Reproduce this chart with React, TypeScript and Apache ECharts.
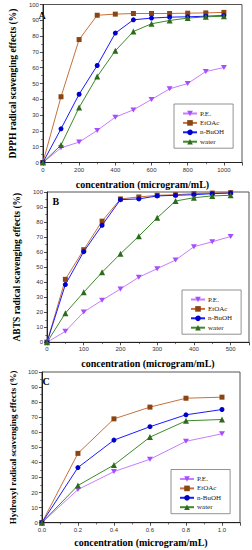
import React, { useEffect, useRef } from "react";
import * as echarts from "echarts";

const seriesNames = ["P.E.", "EtOAc", "n-BuOH", "water"];

const xA = [0, 100, 200, 300, 400, 500, 600, 700, 800, 900, 1000];
const peA = [0, 9.3, 12.9, 20.3, 28.7, 33.3, 39.9, 46.6, 50.0, 57.6, 60.1];
const etA = [0, 41.6, 77.8, 93.2, 93.9, 94.3, 94.3, 94.3, 94.5, 94.7, 95.0];
const buA = [0, 21.3, 43.2, 61.4, 81.9, 90.3, 91.4, 92.0, 92.2, 92.6, 93.0];
const waA = [0, 11.0, 34.8, 54.4, 70.7, 82.9, 87.8, 89.9, 91.4, 92.2, 92.6];

const xB = [0, 50, 100, 150, 200, 250, 300, 350, 400, 450, 500];
const peB = [0, 7.3, 20.1, 28.0, 35.5, 43.3, 49.0, 54.7, 63.6, 66.9, 70.4];
const etB = [0, 41.9, 61.6, 80.6, 95.4, 96.7, 97.8, 98.2, 98.9, 99.3, 99.6];
const buB = [0, 38.4, 60.3, 77.9, 94.9, 95.4, 97.4, 97.8, 98.2, 98.9, 99.3];
const waB = [0, 19.4, 33.3, 46.6, 58.9, 70.6, 82.8, 94.0, 96.2, 97.4, 97.8];

const xC = [0, 0.2, 0.4, 0.6, 0.8, 1.0];
const peC = [0, 22.0, 33.9, 42.1, 54.0, 59.0];
const etC = [0, 46.0, 68.9, 76.7, 82.6, 83.3];
const buC = [0, 36.6, 54.8, 63.7, 71.6, 75.1];
const waC = [0, 24.7, 38.3, 56.8, 67.6, 68.5];

const yTitles = [
  "DPPH radical scavenging effects (%)",
  "ABTS radical scavenging effects (%)",
  "Hydroxyl radical scavenging effects (%)",
];
const xTitle = "concentration (microgram/mL)";
const panelLetters = ["A", "B", "C"];

const SERIF = "'Liberation Serif', 'Times New Roman', serif";
const SANS = "'Liberation Sans', Arial, sans-serif";

const lineColors = ["#c77dff", "#c8703c", "#1a1aff", "#3d8a2a"];
const markColors = ["#a64dff", "#8b4513", "#0000cc", "#2d6b1c"];
const symbols = [
  "path://M0,0 L10,0 L5,9 Z",
  "rect",
  "circle",
  "triangle",
];

export default function App() {
  const ref = useRef<HTMLDivElement>(null);
  useEffect(() => {
    if (!ref.current) return;
    const chart = echarts.init(ref.current, undefined, { renderer: "svg" });

    const grids = [
      { left: 31, top: 4.5, width: 211, height: 158 },
      { left: 47, top: 192, width: 202, height: 150.3 },
      { left: 37.7, top: 372, width: 202.3, height: 150.7 },
    ];
    const xMax = [1100, 550, 1.1];
    const xInt = [200, 100, 0.2];
    const yGaps = [21, 16, 20];
    const yFont = [9.5, 9.5, 9];
    const xGaps = [16.5, 16, 15];
    const xs = [xA, xB, xC];
    const data = [
      [peA, etA, buA, waA],
      [peB, etB, buB, waB],
      [peC, etC, buC, waC],
    ];

    const axisCommon = {
      axisLine: { show: true, lineStyle: { color: "#222", width: 1 } },
      axisTick: { show: true, inside: false, length: 3, lineStyle: { color: "#222", width: 0.8 } },
      minorTick: { show: true, splitNumber: 2, length: 1.8, lineStyle: { color: "#222", width: 0.6 } },
      splitLine: { show: false },
    };

    const xAxis = grids.map((_, i) => ({
      type: "value",
      gridIndex: i,
      min: 0,
      max: xMax[i],
      interval: xInt[i],
      name: xTitle,
      nameLocation: "middle",
      nameGap: xGaps[i],
      ...axisCommon,
      nameTextStyle: { fontFamily: SERIF, fontWeight: "bold", fontSize: 10, color: "#000" },
      axisLabel: {
        fontFamily: SANS,
        fontSize: 6,
        color: "#333",
        margin: 4,
        formatter: (v: number) => {
          if (Math.abs(v - xMax[i]) < 1e-9) return "";
          return i === 2 ? v.toFixed(1) : String(Math.round(v));
        },
      },
    }));

    const yAxis = grids.map((_, i) => ({
      type: "value",
      gridIndex: i,
      min: 0,
      max: 100,
      interval: 10,
      name: yTitles[i],
      nameLocation: "middle",
      nameGap: yGaps[i],
      ...axisCommon,
      nameTextStyle: { fontFamily: SERIF, fontWeight: "bold", fontSize: yFont[i], color: "#000" },
      axisLabel: { fontFamily: SANS, fontSize: 6, color: "#333", margin: 4 },
    }));

    const series: any[] = [];
    for (let g = 0; g < 3; g++) {
      for (let s = 0; s < 4; s++) {
        series.push({
          type: "line",
          name: seriesNames[s],
          xAxisIndex: g,
          yAxisIndex: g,
          data: xs[g].map((x, k) => [x, data[g][s][k]]),
          symbol: symbols[s],
          symbolSize: s === 0 ? [6, 5] : s === 3 ? 6 : 5,
          showSymbol: true,
          lineStyle: { color: lineColors[s], width: 1 },
          itemStyle: { color: markColors[s] },
          z: 3,
        });
      }
    }

    const legendPos = [
      { left: 174, top: 104 },
      { left: 182, top: 290 },
      { left: 171, top: 469.5 },
    ];
    const legend = legendPos.map((p) => ({
      ...p,
      orient: "vertical",
      data: seriesNames,
      itemWidth: 14,
      itemHeight: 7,
      itemGap: 2.4,
      padding: [6, 9, 3, 8],
      borderColor: "#777",
      borderWidth: 0.8,
      selectedMode: false,
      textStyle: { fontFamily: SERIF, fontSize: 7, color: "#222", lineHeight: 7, padding: [0, 0, 0, -2] },
    }));

    const letterPos = [
      [38.5, 10],
      [52.5, 196],
      [42.5, 376],
    ];

    chart.setOption({
      animation: false,
      backgroundColor: "#fff",
      grid: grids.map((g) => ({ ...g, show: true, borderColor: "#555", borderWidth: 1, backgroundColor: "transparent", containLabel: false })),
      xAxis,
      yAxis,
      series,
      legend,
      graphic: panelLetters.map((t, i) => ({
        type: "text",
        left: letterPos[i][0],
        top: letterPos[i][1],
        style: { text: t, fontFamily: SERIF, fontWeight: "bold", fontSize: 10, fill: "#000" },
      })),
    });

    return () => chart.dispose();
  }, []);

  return (
    <div
      ref={ref}
      style={{ position: "fixed", left: 0, top: 0, width: 252, height: 550, background: "#fff" }}
    />
  );
}
